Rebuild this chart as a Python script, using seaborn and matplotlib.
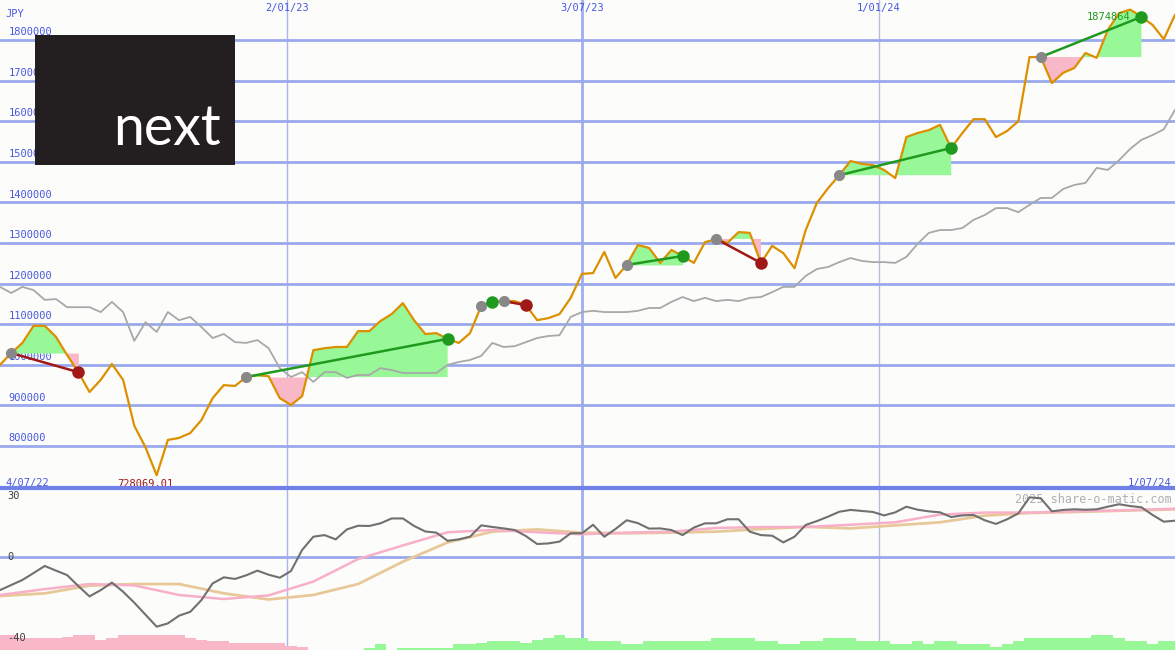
import matplotlib
matplotlib.use("Agg")
import matplotlib.pyplot as plt
import numpy as np
import pandas as pd
import seaborn as sns

# weekly closes, JPY (index 0 = 4/07/22)
price = [1000000, 1029000, 1054000, 1096000, 1096000, 1069000, 1024000, 982000, 933000, 963000,
         1002000, 963000, 850000, 797000, 728069.01, 815000, 820000, 832000, 864000, 918000,
         950000, 948000, 970000, 975000, 972000, 918000, 901000, 923000, 1036000, 1041000,
         1044000, 1044000, 1083000, 1083000, 1108000, 1125000, 1152000, 1110000, 1076000, 1078000,
         1064000, 1054000, 1078000, 1145000, 1155000, 1157000, 1157000, 1147000, 1110000, 1115000,
         1125000, 1165000, 1224000, 1226000, 1278000, 1214000, 1246000, 1295000, 1288000, 1251000,
         1283000, 1268000, 1251000, 1302000, 1310000, 1300000, 1327000, 1325000, 1251000, 1293000,
         1275000, 1238000, 1332000, 1399000, 1435000, 1467000, 1502000, 1495000, 1492000, 1480000,
         1460000, 1561000, 1571000, 1578000, 1591000, 1534000, 1571000, 1605000, 1605000, 1561000,
         1576000, 1600000, 1758000, 1758000, 1694000, 1719000, 1731000, 1768000, 1756000, 1825000,
         1866000, 1874864, 1857000, 1837000, 1802000, 1862000]

benchmark = [1192, 1177, 1192, 1184, 1160, 1162, 1142, 1142, 1142, 1130, 1155, 1130, 1059, 1105,
             1081, 1130, 1110, 1118, 1093, 1066, 1076, 1056, 1054, 1061, 1041, 992, 970, 982, 958,
             982, 982, 968, 975, 975, 992, 987, 980, 980, 980, 980, 1000, 1007, 1012, 1022, 1054,
             1044, 1046, 1056, 1066, 1071, 1073, 1118, 1130, 1133, 1130, 1130, 1130, 1133, 1140,
             1140, 1155, 1167, 1157, 1165, 1157, 1160, 1157, 1165, 1167, 1179, 1192, 1192, 1219,
             1236, 1241, 1253, 1263, 1256, 1253, 1253, 1251, 1266, 1298, 1325, 1332, 1332, 1337,
             1357, 1369, 1386, 1386, 1376, 1394, 1411, 1411, 1433, 1443, 1448, 1485, 1480, 1504,
             1532, 1554, 1566, 1580, 1628]
benchmark = [b * 1000 for b in benchmark]

# trades: (entry week, exit week)
trades = [(1, 7), (22, 40), (43, 44), (45, 47), (56, 61), (64, 68), (75, 85), (93, 102)]

momentum = [-16.3, -13.8, -11.3, -7.9, -4.4, -6.7, -8.9, -14.3, -19.4, -16.3, -12.6, -17.1, -22.5,
            -28.4, -34.3, -32.7, -28.9, -27.0, -21.2, -13.0, -10.0, -10.8, -9.0, -6.7, -8.7, -10.2,
            -6.9, 3.5, 10.0, 10.8, 8.7, 13.6, 15.4, 15.3, 16.6, 19.0, 19.0, 15.3, 12.6, 12.0, 8.0,
            8.7, 10.0, 15.6, 14.8, 14.1, 13.3, 10.3, 6.4, 6.7, 7.6, 11.7, 11.7, 15.9, 10.0, 13.8,
            18.1, 16.7, 14.0, 14.1, 13.3, 10.8, 14.5, 16.6, 16.6, 18.6, 18.6, 12.5, 10.8, 10.5, 7.2,
            10.0, 15.8, 17.7, 19.9, 22.3, 23.2, 22.7, 22.2, 20.5, 22.0, 24.8, 23.3, 22.5, 22.0, 19.7,
            20.5, 20.7, 18.1, 16.3, 18.6, 21.5, 29.4, 28.9, 22.5, 23.2, 23.5, 23.3, 23.5, 24.8, 26.0,
            25.1, 24.5, 20.7, 17.4, 17.9]
avg_weeks = [0, 4, 8, 12, 16, 20, 24, 28, 32, 36, 40, 44, 48, 52, 56, 60, 64, 68, 72, 76, 80, 84,
             88, 92, 96, 100, 105]
fast_avg = [-18.7, -15.8, -13.3, -14.0, -18.7, -20.7, -18.9, -12.1, -1.0, 5.7, 12.2, 13.3, 12.2,
            11.2, 12.0, 12.5, 14.3, 14.8, 14.8, 15.9, 17.1, 20.9, 21.9, 21.9, 22.5, 23.0, 23.8]
slow_avg = [-19.2, -17.9, -14.1, -13.3, -13.3, -17.9, -20.9, -18.7, -13.3, -2.3, 7.2, 12.5, 13.6,
            12.0, 11.7, 12.0, 12.5, 13.8, 14.9, 14.1, 15.6, 17.1, 20.4, 21.7, 22.2, 22.8, 23.5]
# signed bar heights at the bottom of the lower panel (negative = pink)
strength = [-7.4, -7.4, -5.7, -5.7, -5.7, -5.7, -6.6, -7.4, -7.4, -4.9, -5.7, -7.4, -7.4, -7.4,
            -7.4, -7.4, -7.4, -5.7, -4.9, -4.4, -4.4, -3.3, -3.3, -3.3, -3.3, -3.3, -2.1, -1.6,
            0, 0, 0, 0, 0, 0.8, 2.8, 0, 0.8, 0.8, 1.1, 1.1, 0.8, 3.0, 3.0, 3.6, 4.4, 4.4, 4.4, 3.6,
            4.9, 5.9, 7.4, 5.9, 5.9, 4.4, 4.4, 4.4, 3.0, 3.0, 4.4, 4.4, 4.4, 4.4, 4.4, 4.4, 5.9,
            5.9, 5.9, 5.9, 4.4, 4.4, 3.0, 3.0, 4.4, 4.4, 5.9, 5.9, 5.9, 4.4, 4.4, 4.4, 3.0, 3.0,
            4.4, 3.0, 4.4, 4.4, 3.0, 3.0, 3.0, 1.6, 3.0, 4.4, 5.9, 5.9, 5.9, 5.9, 5.9, 5.9, 7.4,
            7.4, 5.9, 4.4, 4.4, 3.0, 4.4, 4.4]

date_ticks = [25.65, 52.0, 78.55]
date_labels = ["2/01/23", "3/07/23", "1/01/24"]
date_widths = [1.0, 2.0, 1.0]
date_colors = ["#a8b4f2", "#a0aef0", "#b8bcd8"]

GRID = "#9aa8ee"
BLUE_TXT = "#4858e0"
GREEN = "#98f898"
PINK = "#f8b8c8"
ORANGE = "#dc9000"
MONO = ["DejaVu Sans Mono"]

sns.set_style("white")
weeks = np.arange(len(price))
df = pd.DataFrame({"week": weeks, "price": price, "bench": benchmark, "mom": momentum})

fig = plt.figure(figsize=(11.75, 6.5), dpi=100, facecolor="#fcfdfb")
ax = fig.add_axes([0, 162 / 650, 1, 488 / 650])
ax2 = fig.add_axes([0, 0, 1, 162 / 650])
for a in (ax, ax2):
    a.set_facecolor("#fcfdfb")
    a.set_xlim(0, len(price) - 1)
    for s in a.spines.values():
        s.set_visible(False)
    a.set_xticks([])
    a.set_yticks([])
    for d, lw, c in zip(date_ticks, date_widths, date_colors):
        a.axvline(d, color=c, lw=lw, zorder=1)

# --- price panel
ax.set_ylim(696700, 1898500)
for lvl in range(800000, 1900000, 100000):
    ax.axhline(lvl, color=GRID, lw=2, zorder=1)
    ax.annotate(str(lvl), (0, lvl), xytext=(6, 2), textcoords="offset points", color=BLUE_TXT,
                fontsize=7.5, family=MONO, zorder=2, va="bottom",
                xycoords=ax.get_yaxis_transform())

p = np.array(price, dtype=float)
for e, x in trades:
    seg = np.arange(e, x + 1)
    lvl = p[e]
    ax.fill_between(seg, p[seg], lvl, where=p[seg] >= lvl, color=GREEN, interpolate=True, lw=0, zorder=2)
    ax.fill_between(seg, p[seg], lvl, where=p[seg] < lvl, color=PINK, interpolate=True, lw=0, zorder=2)

sns.lineplot(data=df, x="week", y="bench", ax=ax, color="#a8a8a8", lw=1.3, zorder=3)
sns.lineplot(data=df, x="week", y="price", ax=ax, color=ORANGE, lw=1.6, zorder=4)

for e, x in trades:
    win = p[x] >= p[e]
    c = "#1f9a1f" if win else "#a01818"
    ax.plot([e, x], [p[e], p[x]], color=c, lw=1.8, zorder=5)
    ax.plot(e, p[e], "o", color="#888888", ms=7, zorder=6)
    ax.plot(x, p[x], "o", color=c, ms=8, zorder=6)

imin, imax = int(np.argmin(p)), int(np.argmax(p))
ax.annotate(f"{p[imin]:.2f}", (imin, p[imin]), xytext=(-8, -3), textcoords="offset points",
            ha="center", va="top", color="#a01818", fontsize=7.5, family=MONO, zorder=7)
ax.annotate(f"{p[imax]:.0f}", (imax, p[imax]), xytext=(0, -2), textcoords="offset points",
            ha="right", va="top", color="#1f9a1f", fontsize=7.5, family=MONO, zorder=7)

ax.text(0.005, 0.965, "JPY", transform=ax.transAxes, color=BLUE_TXT, fontsize=7.5, family=MONO)
for d, lab in zip(date_ticks, date_labels):
    ax.annotate(lab, (d, 1), xycoords=ax.get_xaxis_transform(), xytext=(0, -2),
                textcoords="offset points", ha="center", va="top", color=BLUE_TXT,
                fontsize=7.5, family=MONO)
ax.text(0.005, 0.005, "4/07/22", transform=ax.transAxes, color=BLUE_TXT, fontsize=7.5, family=MONO)
ax.text(0.997, 0.005, "1/07/24", transform=ax.transAxes, color=BLUE_TXT, fontsize=7.5, family=MONO,
        ha="right")

# logo
logo = ax.inset_axes([35 / 1175, 1 - 165 / 488, 200 / 1175, 130 / 488])
logo.set_facecolor("#231f20")
logo.set_xticks([])
logo.set_yticks([])
for s in logo.spines.values():
    s.set_visible(False)
logo.set_zorder(8)
logo.text(0.93, 0.08, "next", color="white", fontsize=40, family=["Lato", "DejaVu Sans"],
          fontweight="normal", ha="right", va="bottom", transform=logo.transAxes)

# --- indicator panel
ax2.set_ylim(-45.8, 34)
ax2.axhline(0, color=GRID, lw=2, zorder=1)
ax2.bar(weeks, np.abs(strength), bottom=-45.8, width=1.0,
        color=[PINK if s < 0 else GREEN for s in strength], lw=0, zorder=2)
sns.lineplot(x=avg_weeks, y=slow_avg, ax=ax2, color="#e8c898", lw=2, zorder=3)
sns.lineplot(x=avg_weeks, y=fast_avg, ax=ax2, color="#f8b0c8", lw=1.8, zorder=3)
sns.lineplot(data=df, x="week", y="mom", ax=ax2, color="#707070", lw=1.5, zorder=4)
for v in (30, 0, -40):
    ax2.annotate(str(v), (0, v), xycoords=ax2.get_yaxis_transform(), xytext=(5, 0),
                 textcoords="offset points", va="center", color="#404040", fontsize=7.5, family=MONO)
ax2.text(0.997, 0.97, "2025 share-o-matic.com", transform=ax2.transAxes, ha="right", va="top",
         color="#b0b0b0", fontsize=8.5, family=MONO)
for a in (ax, ax2):
    a.set_xlabel("")
    a.set_ylabel("")
# separator between panels
fig.add_artist(plt.Line2D([0, 1], [162 / 650, 162 / 650], color="#7080e8", lw=3))

fig.savefig("out.png", dpi=100, facecolor=fig.get_facecolor())
